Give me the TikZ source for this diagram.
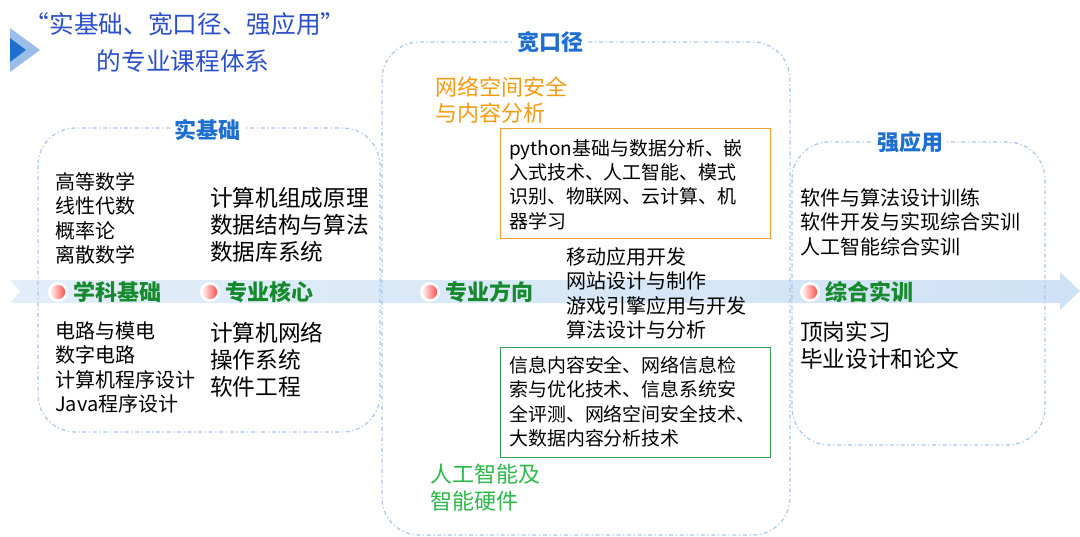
\documentclass[tikz,border=0pt]{standalone}
\usepackage{fontspec}
\setmainfont{Noto Sans CJK SC}
\usetikzlibrary{shadings}
\definecolor{titleblue}{HTML}{2B4FC8}
\definecolor{headblue}{HTML}{1F6FD0}
\definecolor{stagegreen}{HTML}{178A2E}
\definecolor{framedash}{HTML}{A9C6EE}
\definecolor{barblue}{HTML}{CFE2F5}
\definecolor{boxorange}{HTML}{F0A030}
\definecolor{boxgreen}{HTML}{30A050}
\definecolor{labelorange}{HTML}{F39C12}
\definecolor{labelgreen}{HTML}{2DB84A}
\tikzset{
  frame/.style={draw=framedash, line width=0.9pt, dash dot, rounded corners=28pt},
  head/.style={fill=white, text=headblue, font=\fontsize{16.5}{18}\selectfont\bfseries, inner sep=3pt},
  stage/.style={anchor=west, text=stagegreen, font=\fontsize{16.5}{18}\selectfont\bfseries, inner sep=0pt},
  dotmark/.style={circle, minimum size=13pt, inner sep=0pt, draw=white, line width=2pt, left color=white, right color=red!75},
  course/.style={anchor=north west, align=left, inner sep=0pt, font=\fontsize{15}{18.4}\selectfont},
  bigcourse/.style={anchor=north west, align=left, inner sep=0pt, font=\fontsize{17}{20.3}\selectfont},
  tagtext/.style={anchor=north west, align=left, inner sep=0pt, font=\fontsize{16.5}{20}\selectfont},
}
\begin{document}
\begin{tikzpicture}[x=0.75pt, y=-0.75pt]
  \useasboundingbox (0,0) rectangle (1080,536);

  % arrow bar
  \shade[left color=barblue!60, right color=barblue] (10,280) -- (1060,280) -- (1060,272) -- (1080,291) -- (1060,310) -- (1060,303) -- (10,303) -- (20,291.5) -- cycle;

  % title
  \fill[headblue!45] (10,28) -- (40,50) -- (10,72) -- cycle;
  \fill[headblue] (10,38) -- (26,50) -- (10,62) -- cycle;
  \node[text=titleblue, font=\fontsize{18.5}{20}\selectfont] (title1) at (185,24) {“实基础、宽口径、强应用”};
  \node[text=titleblue, font=\fontsize{18.5}{20}\selectfont] (title2) at (183,61) {的专业课程体系};

  % frames
  \draw[frame] (38,128) rectangle (380,432);
  \draw[frame] (382,42) rectangle (790,535);
  \draw[frame] (792,142) rectangle (1045,445);
  \node[head] (basis) at (207,130) {实基础};
  \node[head] (breadth) at (550,42) {宽口径};
  \node[head] (apply) at (910,142) {强应用};

  % stages
  \foreach \x/\name/\txt in {58/subj/学科基础, 210/core/专业核心, 430/dir/专业方向, 810/prac/综合实训} {
    \node[dotmark] (dot\name) at (\x,292) {};
    \node[stage] (\name) at (\x+15,292) {\txt};
  }

  % courses
  \node[course] (math) at (55,172) {高等数学\\线性代数\\概率论\\离散数学};
  \node[bigcourse] (arch) at (210,187) {计算机组成原理\\数据结构与算法\\数据库系统};
  \node[course] (circ) at (55,321) {电路与模电\\数字电路\\计算机程序设计\\Java程序设计};
  \node[bigcourse] (net) at (210,322) {计算机网络\\操作系统\\软件工程};

  \node[tagtext, text=labelorange] (secure) at (435,76) {网络空间安全\\与内容分析};
  \node[draw=boxorange, line width=0.9pt, anchor=north west, minimum width=270pt*0.75, minimum height=110pt*0.75, inner sep=0pt] (obox) at (500,128) {};
  \node[course, font=\fontsize{14.2}{18.3}\selectfont] (otext) at (509,139) {python基础与数据分析、嵌\\入式技术、人工智能、模式\\识别、物联网、云计算、机\\器学习};
  \node[course] (mobile) at (566,247) {移动应用开发\\网站设计与制作\\游戏引擎应用与开发\\算法设计与分析};
  \node[draw=boxgreen, line width=0.9pt, anchor=north west, minimum width=270pt*0.75, minimum height=110pt*0.75, inner sep=0pt] (gbox) at (500,347) {};
  \node[course, font=\fontsize{14.2}{18.3}\selectfont] (gtext) at (509,356) {信息内容安全、网络信息检\\索与优化技术、信息系统安\\全评测、网络空间安全技术、\\大数据内容分析技术};
  \node[tagtext, text=labelgreen] (ai) at (430,464) {人工智能及\\智能硬件};

  \node[course] (train) at (800,188) {软件与算法设计训练\\软件开发与实现综合实训\\人工智能综合实训};
  \node[bigcourse] (intern) at (800,321) {顶岗实习\\毕业设计和论文};
\end{tikzpicture}
\end{document}
